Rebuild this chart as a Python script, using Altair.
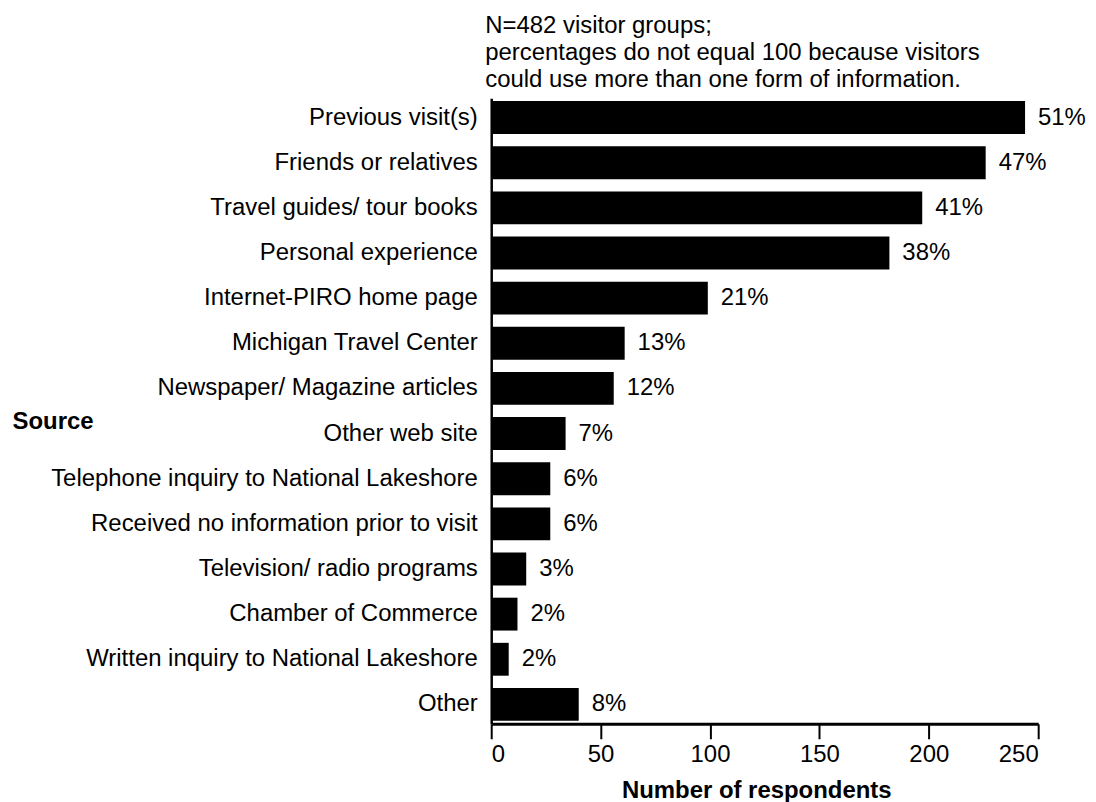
import altair as alt
import pandas as pd

sources = [
    "Previous visit(s)",
    "Friends or relatives",
    "Travel guides/ tour books",
    "Personal experience",
    "Internet-PIRO home page",
    "Michigan Travel Center",
    "Newspaper/ Magazine articles",
    "Other web site",
    "Telephone inquiry to National Lakeshore",
    "Received no information prior to visit",
    "Television/ radio programs",
    "Chamber of Commerce",
    "Written inquiry to National Lakeshore",
    "Other",
]
respondents = [244, 226, 197, 182, 99, 61, 56, 34, 27, 27, 16, 12, 8, 40]
percents = ["51%", "47%", "41%", "38%", "21%", "13%", "12%", "7%", "6%", "6%", "3%", "2%", "2%", "8%"]
x_ticks = [0, 50, 100, 150, 200, 250]
note_lines = [
    "N=482 visitor groups;",
    "percentages do not equal 100 because visitors",
    "could use more than one form of information.",
]

df = pd.DataFrame({"source": sources, "n": respondents, "pct": percents})

FONT = "Liberation Sans"

y_enc = alt.Y(
    "source:N",
    sort=sources,
    scale=alt.Scale(paddingInner=0.272, paddingOuter=0.066),
    axis=alt.Axis(
        title="Source",
        titleAngle=0,
        titleAlign="left",
        titleBaseline="middle",
        titleX=-481,
        titleY=325,
        titleFont=FONT,
        titleFontSize=24,
        titleFontWeight="bold",
        titleColor="black",
        labelFont=FONT,
        labelFontSize=24,
        labelColor="black",
        labelPadding=14,
        labelLimit=600,
        ticks=False,
        domainColor="black",
        domainWidth=2.5,
    ),
)

x_enc = alt.X(
    "n:Q",
    scale=alt.Scale(domain=[0, 250], nice=False),
    axis=alt.Axis(
        title="Number of respondents",
        titleX=266,
        titleY=67,
        titleBaseline="middle",
        titleAlign="center",
        titleFont=FONT,
        titleFontSize=24,
        titleFontWeight="bold",
        titleColor="black",
        values=x_ticks,
        labelFont=FONT,
        labelFontSize=24,
        labelColor="black",
        labelPadding=4,
        tickSize=15,
        tickWidth=2,
        tickColor="black",
        domainColor="black",
        domainWidth=3,
        grid=False,
    ),
)

bars = alt.Chart(df).mark_bar(color="black").encode(y=y_enc, x=x_enc)

labels = alt.Chart(df).mark_text(
    align="left", baseline="middle", dx=13, font=FONT, fontSize=24, color="black"
).encode(y=alt.Y("source:N", sort=sources), x=alt.X("n:Q"), text="pct:N")

chart = (
    alt.layer(bars, labels)
    .properties(
        width=549,
        height=628,
        autosize=alt.AutoSizeParams(type="none"),
        padding={"left": 485, "top": 89, "right": 50, "bottom": 80},
        title=alt.TitleParams(
            text=note_lines,
            anchor="start",
            frame="group",
            orient="top",
            dx=-6,
            dy=27,
            offset=14,
            baseline="alphabetic",
            font=FONT,
            fontSize=24,
            fontWeight="normal",
            color="black",
            lineHeight=27,
        ),
        background="white",
    )
    .configure_view(stroke=None)
)

chart.save("out.html", embed_options={"renderer": "svg", "actions": False})
